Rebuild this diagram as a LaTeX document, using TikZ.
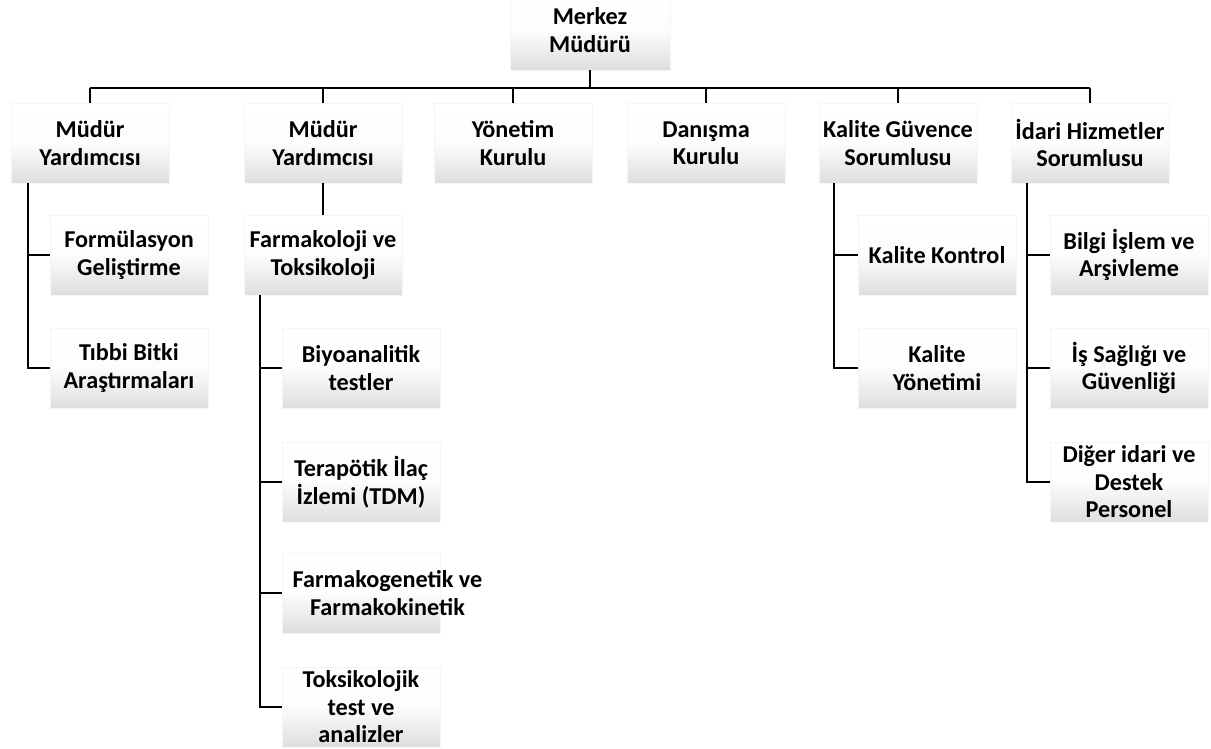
\documentclass[tikz,border=0pt]{standalone}
\usepackage{fontspec}
\setmainfont{Carlito}
\begin{document}
\begin{tikzpicture}[x=1pt,y=-1pt,
  box/.style={minimum width=158pt,minimum height=80pt,inner sep=0pt,
    top color=white,bottom color=black!13,middle color=black!1,draw=black!4,line width=0.6pt},
  txt/.style={font=\fontsize{24.2}{27.5}\selectfont\bfseries,align=center,inner sep=0pt,text=black},
  conn/.style={line width=1.6pt,black},
  bus/.style={line width=2pt,black}]
\useasboundingbox (0,0) rectangle (1211,749);
\clip (0,0) rectangle (1211,749);
% boxes
\node[box,minimum width=160pt] (m) at (590,30) {};
\node[box] (a1) at (90,143) {};
\node[box] (a2) at (323,143) {};
\node[box] (a3) at (513,143) {};
\node[box] (a4) at (706,143) {};
\node[box] (a5) at (898,143) {};
\node[box] (a6) at (1090,143) {};
\node[box] (c11) at (129,255) {};
\node[box] (c12) at (129,368) {};
\node[box] (f) at (323,255) {};
\node[box] (c21) at (361,368) {};
\node[box] (c22) at (361,482) {};
\node[box] (c23) at (361,593) {};
\node[box] (c24) at (361,707) {};
\node[box] (c51) at (937,255) {};
\node[box] (c52) at (937,368) {};
\node[box] (c61) at (1129,255) {};
\node[box] (c62) at (1129,368) {};
\node[box] (c63) at (1129,482) {};
% texts
\node[txt] (tm) at (m) {Merkez\\Müdürü};
\node[txt] (ta1) at (a1) {Müdür\\Yardımcısı};
\node[txt] (ta2) at (a2) {Müdür\\Yardımcısı};
\node[txt] (ta3) at (a3) {Yönetim\\Kurulu};
\node[txt] (ta4) at (a4) {Danışma\\Kurulu};
\node[txt] (ta5) at (a5) {Kalite Güvence\\Sorumlusu};
\node[txt] (ta6) at (a6) {İdari Hizmetler\\Sorumlusu};
\node[txt] (tc11) at (c11) {Formülasyon\\Geliştirme};
\node[txt] (tc12) at (c12) {Tıbbi Bitki\\Araştırmaları};
\node[txt] (tf) at (f) {Farmakoloji ve\\Toksikoloji};
\node[txt] (tc21) at (c21) {Biyoanalitik\\testler};
\node[txt] (tc22) at (c22) {Terapötik İlaç\\İzlemi (TDM)};
\node[txt] (tc23) at ([xshift=26.5pt]c23.center) {Farmakogenetik ve\\Farmakokinetik};
\node[txt] (tc24) at (c24) {Toksikolojik\\test ve\\analizler};
\node[txt] (tc51) at (c51) {Kalite Kontrol};
\node[txt] (tc52) at (c52) {Kalite\\Yönetimi};
\node[txt] (tc61) at (c61) {Bilgi İşlem ve\\Arşivleme};
\node[txt] (tc62) at (c62) {İş Sağlığı ve\\Güvenliği};
\node[txt] (tc63) at (c63) {Diğer idari ve\\Destek\\Personel};
% connectors
\coordinate (bar) at (0,88);
\draw[bus] (m.south) -- (m.south |- bar);
\draw[bus] (bar -| a1.north) -- (bar -| a6.north);
\foreach \i in {1,...,6}{\draw[conn] (bar -| a\i.north) -- (a\i.north);}
\draw[conn] ([xshift=17pt]a1.south west) |- (c12.west);
\draw[conn] ([xshift=17pt]a1.south west) |- (c11.west);
\draw[conn] (a2.south) -- (f.north);
\foreach \j in {1,...,4}{\draw[conn] ([xshift=16pt]f.south west) |- (c2\j.west);}
\foreach \j in {1,2}{\draw[conn] ([xshift=15pt]a5.south west) |- (c5\j.west);}
\foreach \j in {1,2,3}{\draw[conn] ([xshift=16pt]a6.south west) |- (c6\j.west);}
\end{tikzpicture}
\end{document}
